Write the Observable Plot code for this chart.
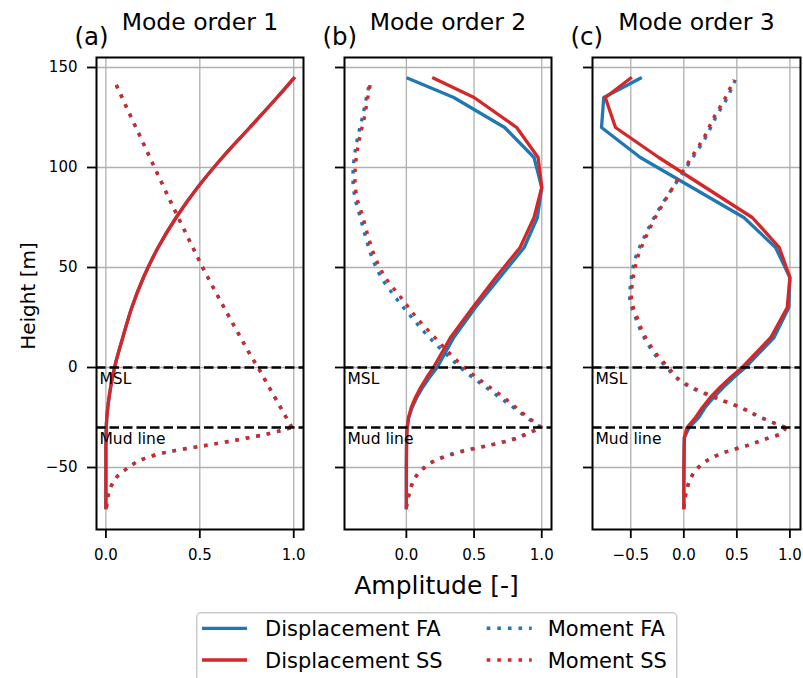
<!DOCTYPE html>
<html>
<head>
<meta charset="utf-8">
<script src="https://cdn.jsdelivr.net/npm/d3@7"></script>
<script src="https://cdn.jsdelivr.net/npm/@observablehq/plot@0.6"></script>
<style>
html, body { margin: 0; padding: 0; background: #fff; overflow: hidden; }
#chart { position: relative; width: 803px; height: 678px; font-family: "DejaVu Sans", sans-serif; }
#chart > .panel, #chart > .legend { position: absolute; top: 0; }
</style>
</head>
<body>
<div id="chart"></div>
<script>
// ---------------- data ----------------
const panelTitles = ["Mode order 1", "Mode order 2", "Mode order 3"];
const panelLetters = ["(a)", "(b)", "(c)"];
const yTicks = [-50, 0, 50, 100, 150];
const refLevels = [0, -30];
const refNames = ["MSL", "Mud line"];
const xTicksA = [0, 0.5, 1];
const xTicksB = [0, 0.5, 1];
const xTicksC = [-0.5, 0, 0.5, 1];
const legendLabels = ["Displacement FA", "Displacement SS", "Moment FA", "Moment SS"];

const dispHeights = [144.6, 135, 120, 105, 90, 75, 60, 45, 30, 15, 0, -5, -10, -15, -20, -25, -30, -35, -40, -50, -60, -70];
const disp1FA = [1.0, 0.911, 0.766, 0.62, 0.488, 0.374, 0.278, 0.2, 0.138, 0.09, 0.046, 0.035, 0.025, 0.017, 0.01, 0.005, 0.002, 0.001, 0, 0, 0, 0];
const disp1SS = [1.0, 0.911, 0.766, 0.62, 0.488, 0.374, 0.278, 0.2, 0.138, 0.09, 0.046, 0.035, 0.025, 0.017, 0.01, 0.005, 0.002, 0.001, 0, 0, 0, 0];
const disp2FA = [0.013, 0.35, 0.726, 0.943, 1.0, 0.968, 0.87, 0.69, 0.51, 0.35, 0.227, 0.17, 0.12, 0.077, 0.042, 0.018, 0.006, 0.002, 0.001, 0, 0, 0];
const disp2SS = [0.202, 0.5, 0.815, 0.973, 1.0, 0.943, 0.84, 0.66, 0.49, 0.326, 0.2, 0.15, 0.105, 0.067, 0.036, 0.016, 0.005, 0.002, 0.001, 0, 0, 0];
const disp3FA = [-0.41, -0.755, -0.776, -0.41, 0.078, 0.566, 0.865, 1.0, 0.99, 0.85, 0.58, 0.47, 0.37, 0.28, 0.2, 0.14, 0.05, 0.005, 0.003, 0.001, 0, 0];
const disp3SS = [-0.503, -0.74, -0.644, -0.236, 0.205, 0.645, 0.9, 1.0, 0.975, 0.82, 0.55, 0.44, 0.34, 0.25, 0.175, 0.11, 0.03, 0.005, 0.003, 0.001, 0, 0];

const momHeights = [143.8, 135, 125, 115, 105, 95, 85, 75, 65, 55, 45, 35, 25, 15, 5, 0, -5, -10, -15, -20, -25, -30, -33, -36, -39, -42, -45, -48, -51, -54, -58, -64, -70];
const mom1FA = [0.043, 0.086, 0.135, 0.185, 0.234, 0.284, 0.334, 0.385, 0.437, 0.489, 0.543, 0.6, 0.658, 0.717, 0.777, 0.81, 0.84, 0.87, 0.9, 0.93, 0.96, 0.99, 0.87, 0.71, 0.53, 0.34, 0.22, 0.15, 0.105, 0.065, 0.035, 0.012, 0.003];
const mom1SS = [0.043, 0.086, 0.135, 0.185, 0.234, 0.284, 0.334, 0.385, 0.437, 0.489, 0.543, 0.6, 0.658, 0.717, 0.777, 0.81, 0.84, 0.87, 0.9, 0.93, 0.96, 0.99, 0.87, 0.71, 0.53, 0.34, 0.22, 0.15, 0.105, 0.065, 0.035, 0.012, 0.003];
const mom2FA = [-0.267, -0.295, -0.325, -0.36, -0.385, -0.395, -0.38, -0.34, -0.3, -0.254, -0.185, -0.08, 0.04, 0.17, 0.32, 0.4, 0.49, 0.59, 0.69, 0.79, 0.89, 0.99, 0.89, 0.78, 0.6, 0.4, 0.26, 0.17, 0.115, 0.074, 0.043, 0.017, 0.0];
const mom2SS = [-0.26, -0.285, -0.31, -0.345, -0.37, -0.38, -0.365, -0.32, -0.28, -0.23, -0.155, -0.04, 0.075, 0.21, 0.35, 0.43, 0.52, 0.62, 0.72, 0.81, 0.9, 1.0, 0.9, 0.79, 0.61, 0.41, 0.27, 0.175, 0.12, 0.078, 0.045, 0.018, 0.0];
const mom3FA = [0.485, 0.41, 0.3, 0.205, 0.085, -0.04, -0.165, -0.28, -0.375, -0.455, -0.495, -0.51, -0.455, -0.375, -0.25, -0.16, -0.075, 0.065, 0.285, 0.53, 0.725, 0.955, 0.915, 0.755, 0.595, 0.405, 0.265, 0.178, 0.118, 0.078, 0.044, 0.016, 0.0];
const mom3SS = [0.47, 0.393, 0.283, 0.19, 0.071, -0.046, -0.16, -0.269, -0.36, -0.435, -0.477, -0.495, -0.44, -0.36, -0.23, -0.144, -0.065, 0.08, 0.3, 0.54, 0.73, 0.96, 0.92, 0.76, 0.6, 0.41, 0.27, 0.18, 0.12, 0.079, 0.045, 0.016, 0.0];

// ---------------- styling / layout ----------------
const FONT = "DejaVu Sans";
const BLUE = "#1f77b4", RED = "#d62728", GRID = "#b0b0b0";
const yDomain = [-81, 155];
const xDomains = [[-0.05, 1.052], [-0.457, 1.072], [-0.861, 1.10]];
const xTicksList = [xTicksA, xTicksB, xTicksC];
const dispCurves = ["monotone-y", "linear", "linear"];
const layout = [
  {left: 0, width: 320, ml: 96, mr: 17},
  {left: 320, width: 252, ml: 24, mr: 21},
  {left: 572, width: 231, ml: 20, mr: 3}
];
const dispFA = [disp1FA, disp2FA, disp3FA], dispSS = [disp1SS, disp2SS, disp3SS];
const momFA = [mom1FA, mom2FA, mom3FA], momSS = [mom1SS, mom2SS, mom3SS];

const fmtX = d => (d < 0 ? "\u2212" : "") + Math.abs(d).toFixed(1);
const fmtY = d => (d < 0 ? "\u2212" : "") + Math.abs(d);

const lineRows = (heights, values) => heights.map((h, i) => ({h, v: values[i]})).reverse();
const momentRows = (heights, values) => {
  const all = heights.map((h, i) => ({h, v: values[i]}));
  const upper = all.filter(d => d.h >= -30).map(d => ({...d, seg: "upper"}));
  const lower = all.filter(d => d.h <= -30).map(d => ({...d, seg: "lower"}));
  return [...upper.reverse(), ...lower.reverse()];
};

const chart = document.getElementById("chart");

for (let i = 0; i < 3; i++) {
  const L = layout[i];
  const xd = xDomains[i];
  const refData = refNames.map((n, k) => ({name: n, y: refLevels[k]}));
  const marks = [
    Plot.gridX({ticks: xTicksList[i], stroke: GRID, strokeOpacity: 1, strokeWidth: 1.3}),
    Plot.gridY({ticks: yTicks, stroke: GRID, strokeOpacity: 1, strokeWidth: 1.3}),
    Plot.line(lineRows(dispHeights, dispFA[i]), {x: "v", y: "h", curve: dispCurves[i], stroke: BLUE, strokeWidth: 3.3, strokeLinejoin: "round", strokeLinecap: "square"}),
    Plot.line(lineRows(dispHeights, dispSS[i]), {x: "v", y: "h", curve: dispCurves[i], stroke: RED, strokeWidth: 3.3, strokeLinejoin: "round", strokeLinecap: "square"}),
    Plot.line(momentRows(momHeights, momFA[i]), {x: "v", y: "h", z: "seg", curve: "monotone-y", stroke: BLUE, strokeWidth: 3.4, strokeDasharray: "3.6,7", strokeLinecap: "butt"}),
    Plot.line(momentRows(momHeights, momSS[i]), {x: "v", y: "h", z: "seg", curve: "monotone-y", stroke: RED, strokeWidth: 3.4, strokeDasharray: "3.6,7", strokeLinecap: "butt"}),
    Plot.ruleY(refLevels, {stroke: "black", strokeWidth: 2.4, strokeDasharray: "9.5,4"}),
    Plot.text(refData, {x: () => xd[0], y: "y", text: "name", textAnchor: "start", lineAnchor: "bottom", dx: 3, dy: 16, fontSize: 15.5, fill: "black"}),
    Plot.frame({stroke: "black", strokeWidth: 2}),
    Plot.axisX({ticks: xTicksList[i], tickSize: 9, tickPadding: 11, tickFormat: fmtX, fontSize: 15, strokeWidth: 1.8, label: null}),
    Plot.axisY({ticks: yTicks, tickSize: 9, tickPadding: 10, tickFormat: i === 0 ? fmtY : () => "", fontSize: 15, strokeWidth: 1.8, label: null}),
    Plot.text([panelTitles[i]], {text: d => d, frameAnchor: "top", lineAnchor: "bottom", dy: -27.7, fontSize: 23.5, fill: "black"}),
    Plot.text([panelLetters[i]], {text: d => d, frameAnchor: "top-left", textAnchor: "start", lineAnchor: "bottom", dx: -22, dy: -12.5, fontSize: 24.5, fill: "black"})
  ];
  if (i === 0) {
    marks.push(Plot.text(["Height [m]"], {text: d => d, frameAnchor: "left", rotate: -90, textAnchor: "middle", lineAnchor: "bottom", dx: -62, dy: 2.5, fontSize: 20, fill: "black"}));
  }
  if (i === 1) {
    marks.push(Plot.text(["Amplitude [-]"], {text: d => d, frameAnchor: "bottom", textAnchor: "middle", lineAnchor: "bottom", dx: -11.5, dy: 64.3, fontSize: 25, fill: "black"}));
  }
  const svg = Plot.plot({
    width: L.width,
    height: 605,
    marginLeft: L.ml,
    marginRight: L.mr,
    marginTop: 57,
    marginBottom: 76,
    style: {fontFamily: FONT, fontSize: "15px", background: "transparent", overflow: "visible", color: "black"},
    x: {domain: xd, label: null},
    y: {domain: yDomain, label: null},
    marks
  });
  const holder = document.createElement("div");
  holder.className = "panel";
  holder.style.left = L.left + "px";
  holder.appendChild(svg);
  chart.appendChild(holder);
}

// ---------------- legend ----------------
const legend = document.createElement("div");
legend.className = "legend";
legend.style.left = "196px";
legend.style.top = "612px";
const legendItems = [
  {label: legendLabels[0], color: BLUE, dash: null, x: 6, y: 16.3, tx: 69, ty: 24},
  {label: legendLabels[1], color: RED, dash: null, x: 6, y: 48, tx: 69, ty: 55.7},
  {label: legendLabels[2], color: BLUE, dash: "3.6,7", x: 290.7, y: 16.3, tx: 351.7, ty: 24},
  {label: legendLabels[3], color: RED, dash: "3.6,7", x: 290.7, y: 48, tx: 351.7, ty: 55.7}
];
let svgL = `<svg width="482" height="80" xmlns="http://www.w3.org/2000/svg" style="display:block;font-family:'DejaVu Sans'">`;
svgL += `<rect x="0.75" y="0.75" width="480" height="100" rx="4" ry="4" fill="white" stroke="#cccccc" stroke-width="1.5"/>`;
for (const it of legendItems) {
  svgL += `<line x1="${it.x}" x2="${it.x + 45}" y1="${it.y}" y2="${it.y}" stroke="${it.color}" stroke-width="${it.dash ? 3.4 : 3.3}" ${it.dash ? `stroke-dasharray="${it.dash}"` : ""} stroke-linecap="butt"/>`;
  svgL += `<text x="${it.tx}" y="${it.ty}" font-size="21" fill="black">${it.label}</text>`;
}
svgL += `</svg>`;
legend.innerHTML = svgL;
chart.appendChild(legend);
</script>
</body>
</html>
